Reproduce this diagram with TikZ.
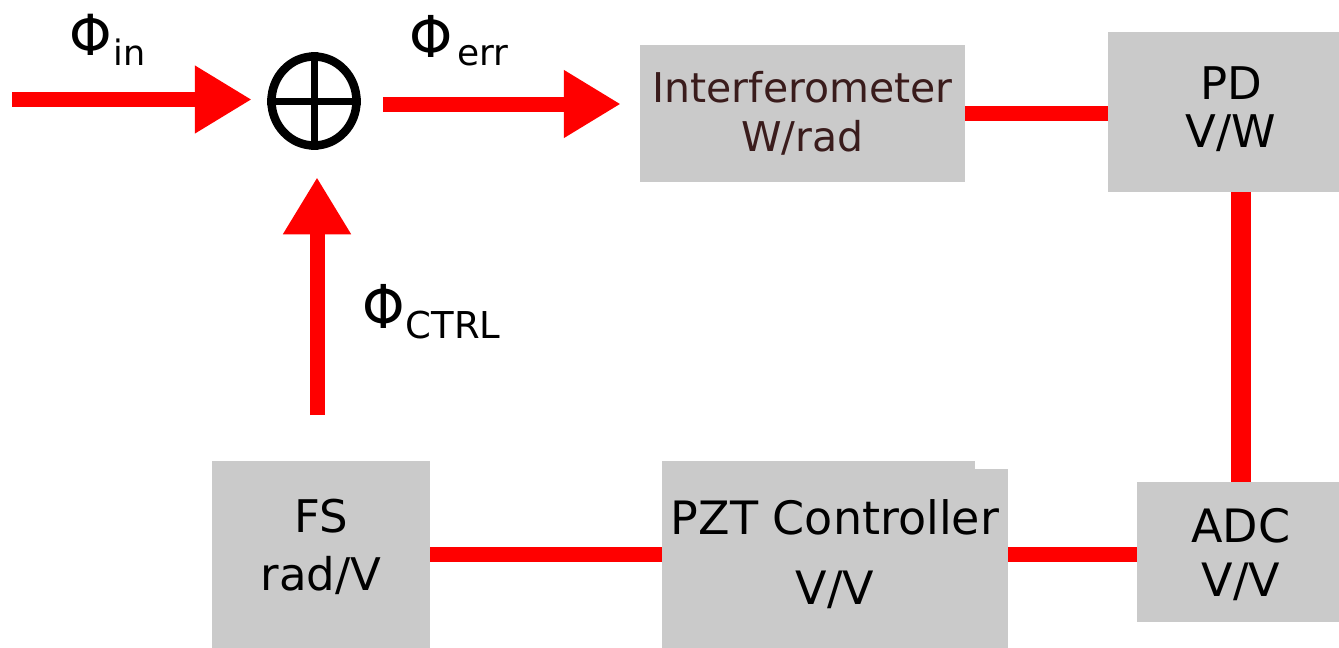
\documentclass[tikz,border=0pt]{standalone}
\usepackage{fontspec}
\setmainfont{DejaVu Sans}
\usetikzlibrary{arrows.meta,shapes.geometric}
\definecolor{boxgray}{HTML}{CACACA}
\definecolor{sigred}{HTML}{FF0000}
\definecolor{ifotext}{HTML}{3A1C1C}
% Phi symbol: size, vertical stretch
\newcommand{\phisym}[2]{\scalebox{1}[#2]{\fontsize{#1}{#1}\selectfont Φ}}
% lowered subscript: size, drop, text
\newcommand{\lowsub}[3]{\raisebox{-#2}{\fontsize{#1}{#1}\selectfont #3}}

\begin{document}
\begin{tikzpicture}[x=1pt,y=-1pt,
  block/.style={fill=boxgray, draw=none, inner sep=0pt, align=center},
  link/.style={draw=sigred, line width=15pt},
  sig/.style={draw=sigred, line width=15pt, -{Triangle[length=57pt,width=64pt]}},
  phi/.style={inner sep=0pt, anchor=base west}]
\useasboundingbox (0,0) rectangle (1339,648);
\clip (0,0) rectangle (1339,648);

% summing junction
\node[draw=black, line width=8.5pt, ellipse, minimum width=85pt, minimum height=89pt, inner sep=0pt] (sum) at (314,101) {};
\draw[line width=7pt] (sum.north) -- (sum.south) (sum.west) -- (sum.east);

% blocks
\node[block, minimum width=325pt, minimum height=137pt, text=ifotext,
      font=\fontsize{41}{49}\selectfont] (ifo) at (802.5,113.5) {Interferometer\\W/rad};
\node[block, minimum width=246pt, minimum height=160pt,
      label={[font=\fontsize{45}{48}\selectfont, align=center, yshift=3pt]center:PD\\V/W}] (pd) at (1231,112) {};
\node[block, minimum width=208pt, minimum height=140pt,
      label={[font=\fontsize{46}{54}\selectfont, align=center, yshift=-3pt]center:ADC\\V/V}] (adc) at (1241,552) {};
\node[block, minimum width=346pt, minimum height=187pt,
      font=\fontsize{46}{70}\selectfont] (pzt) at (835,554.5) {PZT Controller\\V/V};
\node[block, minimum width=218pt, minimum height=187pt,
      label={[font=\fontsize{45}{58}\selectfont, align=center, yshift=8pt]center:FS\\rad/V}] (fs) at (321,554.5) {};
\fill[white] (975,459) rectangle (1012,469);

% signal arrows
\coordinate (in) at (12,99.5);
\draw[sig] (in) -- ([xshift=-15.5pt]sum.west |- in);
\draw[sig] ([shift={(22,3)}]sum.east) -- ++(238,0);
\coordinate (ctrl) at (317,415);
\draw[sig] (ctrl) -- ([yshift=-27.5pt]sum.south -| ctrl);

% block connections
\draw[link] (ifo.east) -- (ifo.east -| pd.west);
\draw[link, line width=20pt] (pd.south -| adc.north) -- (adc.north);
\draw[link] (pzt.east) -- (pzt.east -| adc.west);
\draw[link] (fs.east) -- (fs.east -| pzt.west);

% signal labels
\node[phi] (lin) at (69,55) {\phisym{54}{1.05}\hspace{2pt}\lowsub{35}{10pt}{in}};
\node[phi] (lerr) at (409,57) {\phisym{55}{1.05}\hspace{5pt}\lowsub{36}{8pt}{err}};
\node[phi] (lctrl) at (362,328) {\phisym{54}{1.12}\hspace{1pt}\lowsub{37}{10pt}{CTRL}};
\end{tikzpicture}
\end{document}
